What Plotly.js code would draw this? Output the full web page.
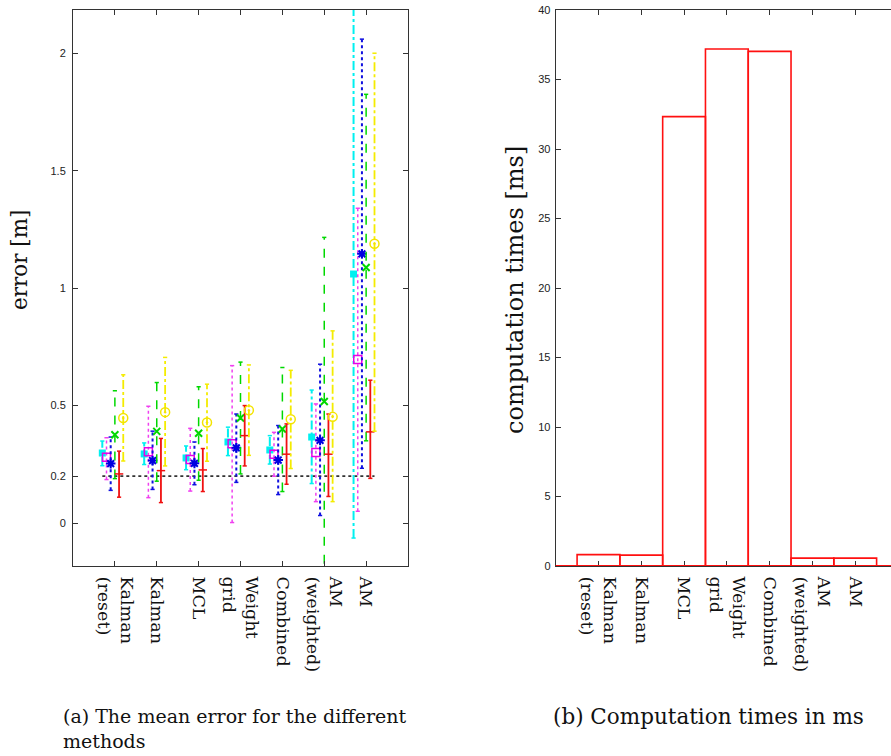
<!DOCTYPE html>
<html>
<head>
<meta charset="utf-8">
<script src="https://cdn.plot.ly/plotly-3.0.1.min.js"></script>
<style>
html, body { margin: 0; padding: 0; overflow: hidden; background: #fff; }
#chart { width: 900px; height: 756px; }
</style>
</head>
<body>
<div id="chart"></div>
<script>
// ---------- data ----------
var methods = ["Kalman<br>(reset)", "Kalman", "MCL", "Weight<br>grid", "Combined", "AM<br>(weighted)", "AM"];
var methodPos = [1, 2, 3, 4, 5, 6, 7];

// mean error [m] and lower / upper error bar ends, per series (one value per method)
var cyanMean  = [0.298, 0.294, 0.277, 0.345, 0.311, 0.366, 1.060];
var cyanLow   = [0.244, 0.249, 0.227, 0.287, 0.251, 0.168, -0.064];
var cyanHigh  = [0.349, 0.341, 0.328, 0.408, 0.372, 0.566, 2.250];

var magentaMean = [0.280, 0.303, 0.270, 0.337, 0.293, 0.300, 0.696];
var magentaLow  = [0.185, 0.108, 0.136, 0.002, 0.199, 0.091, 0.050];
var magentaHigh = [0.363, 0.497, 0.403, 0.670, 0.386, 0.507, 1.340];

var blueMean = [0.253, 0.266, 0.254, 0.320, 0.268, 0.352, 1.146];
var blueLow  = [0.139, 0.143, 0.163, 0.173, 0.121, 0.032, 0.233];
var blueHigh = [0.366, 0.391, 0.345, 0.464, 0.415, 0.676, 2.060];

var greenMean = [0.376, 0.390, 0.382, 0.447, 0.400, 0.517, 1.088];
var greenLow  = [0.189, 0.178, 0.182, 0.209, 0.134, -0.250, 0.350];
var greenHigh = [0.563, 0.598, 0.580, 0.685, 0.662, 1.216, 1.825];

var redMean = [0.209, 0.223, 0.226, 0.372, 0.293, 0.293, 0.388];
var redLow  = [0.110, 0.087, 0.134, 0.243, 0.165, 0.113, 0.190];
var redHigh = [0.306, 0.360, 0.317, 0.500, 0.422, 0.464, 0.608];

var yellowMean = [0.447, 0.472, 0.428, 0.480, 0.442, 0.452, 1.189];
var yellowLow  = [0.264, 0.243, 0.263, 0.288, 0.232, 0.091, 0.391];
var yellowHigh = [0.631, 0.705, 0.591, 0.673, 0.650, 0.818, 2.000];

var referenceError = 0.2;

// computation times [ms]
var compTimes = [0.82, 0.78, 32.33, 37.19, 37.02, 0.57, 0.57];

var errorTicks = [0, 0.2, 0.5, 1, 1.5, 2];
var timeTicks = [0, 5, 10, 15, 20, 25, 30, 35, 40];

// ---------- styles ----------
var seriesDefs = [
  {mean: cyanMean, low: cyanLow, high: cyanHigh, off: -0.3, color: "#00f0f0", dash: "dashdot", width: 2,
   marker: {symbol: "square", size: 7, color: "#00f0f0", line: {width: 0}}},
  {mean: magentaMean, low: magentaLow, high: magentaHigh, off: -0.2, color: "#f040f0", dash: "dot", width: 1.5,
   marker: {symbol: "square-open", size: 8, color: "#e800e8", line: {width: 1.5}}},
  {mean: blueMean, low: blueLow, high: blueHigh, off: -0.1, color: "#1010e0", dash: "dot", width: 2,
   marker: {symbol: "asterisk-open", size: 8, color: "#0000e0", line: {width: 2, color: "#0000e0"}}},
  {mean: greenMean, low: greenLow, high: greenHigh, off: 0.0, color: "#00d800", dash: "dash", width: 1.5,
   marker: {symbol: "x-thin-open", size: 7, color: "#00d800", line: {width: 2, color: "#00d800"}}},
  {mean: redMean, low: redLow, high: redHigh, off: 0.1, color: "#f01010", dash: "solid", width: 1.8,
   marker: {symbol: "line-ew-open", size: 6, color: "#f01010", line: {width: 1.5, color: "#f01010"}}},
  {mean: yellowMean, low: yellowLow, high: yellowHigh, off: 0.2, color: "#f4ec00", dash: "dashdot", width: 1.8,
   marker: {symbol: "circle-open-dot", size: 9, color: "#f4e400", line: {width: 1.5}}}
];
var capHalf = 0.05;

var traces = [];
// reference line spans the x extent of the data points
var offs = seriesDefs.map(function (s) { return s.off; });
var refX0 = methodPos[0] + Math.min.apply(null, offs);
var refX1 = methodPos[methodPos.length - 1] + Math.max.apply(null, offs);
traces.push({
  x: [refX0, refX1], y: [referenceError, referenceError], mode: "lines",
  line: {color: "#333", dash: "dot", width: 1.8}, xaxis: "x", yaxis: "y", hoverinfo: "skip"
});

seriesDefs.forEach(function (s) {
  var vx = [], vy = [], cx = [], cy = [], mx = [];
  methodPos.forEach(function (p, i) {
    var x = p + s.off;
    mx.push(x);
    vx.push(x, x, null); vy.push(s.low[i], s.high[i], null);
    cx.push(x - capHalf, x + capHalf, null, x - capHalf, x + capHalf, null);
    cy.push(s.low[i], s.low[i], null, s.high[i], s.high[i], null);
  });
  traces.push({x: vx, y: vy, mode: "lines", line: {color: s.color, dash: s.dash, width: s.width},
    xaxis: "x", yaxis: "y", hoverinfo: "skip"});
  traces.push({x: cx, y: cy, mode: "lines", line: {color: s.color, width: 1.5},
    xaxis: "x", yaxis: "y", hoverinfo: "skip"});
  traces.push({x: mx, y: s.mean, mode: "markers", marker: s.marker, xaxis: "x", yaxis: "y"});
});

traces.push({
  type: "bar", x: methodPos, y: compTimes, width: 1,
  marker: {color: "rgba(0,0,0,0)", line: {color: "#ff1010", width: 1.6}},
  xaxis: "x2", yaxis: "y2"
});

var W = 900, H = 756;
var plotTop = 10, plotBottom = 566;
var yDom = [(H - plotBottom) / H, (H - plotTop) / H];

var axisCommon = {
  showline: true, linecolor: "#333", linewidth: 1, mirror: "ticks",
  ticks: "inside", ticklen: 5, tickwidth: 1, tickcolor: "#333",
  showgrid: false, zeroline: false, fixedrange: true
};
function merge(a, b) { var o = {}; for (var k in a) o[k] = a[k]; for (var k2 in b) o[k2] = b[k2]; return o; }

var xTickFont = {family: "DejaVu Serif", size: 17.5, color: "#111"};
var yTickFont = {family: "Liberation Sans, Arial, sans-serif", size: 11, color: "#222"};

var layout = {
  width: W, height: H,
  margin: {l: 0, r: 0, t: 0, b: 0, autoexpand: false},
  paper_bgcolor: "#fff", plot_bgcolor: "#fff",
  showlegend: false,
  font: {family: "DejaVu Serif", color: "#111"},
  xaxis: merge(axisCommon, {domain: [73 / W, 408 / W], range: [0, 8], tickvals: methodPos, ticktext: methods,
    tickangle: 90, tickfont: xTickFont, anchor: "y", ticklabelstandoff: 6}),
  yaxis: merge(axisCommon, {domain: yDom, range: [-0.183, 2.184], tickvals: errorTicks,
    ticktext: errorTicks.map(String), tickfont: yTickFont, anchor: "x", ticklabelstandoff: 4}),
  xaxis2: merge(axisCommon, {domain: [555.7 / W, 898 / W], range: [0, 8], tickvals: methodPos, ticktext: methods,
    tickangle: 90, tickfont: xTickFont, anchor: "y2", ticklabelstandoff: 6}),
  yaxis2: merge(axisCommon, {domain: yDom, range: [0, 40], tickvals: timeTicks, tickfont: yTickFont,
    anchor: "x2", ticklabelstandoff: 2}),
  shapes: [{type: "line", xref: "x2 domain", yref: "y2", x0: 0, x1: 1, y0: 0, y1: 0,
    line: {color: "#ff1010", width: 2}, layer: "above"}],
  annotations: [
    {text: "error [m]", textangle: -90, xref: "paper", yref: "paper", x: 19 / W, y: 1 - 260 / H,
     xanchor: "center", yanchor: "middle", showarrow: false, font: {family: "DejaVu Serif", size: 21.5, color: "#111"}},
    {text: "computation times [ms]", textangle: -90, xref: "paper", yref: "paper", x: 515 / W, y: 1 - 290 / H,
     xanchor: "center", yanchor: "middle", showarrow: false, font: {family: "DejaVu Serif", size: 24, color: "#111"}},
    {text: "(a) The mean error for the different<br>methods", xref: "paper", yref: "paper", x: 61 / W, y: 1 - 703 / H,
     xanchor: "left", yanchor: "top", align: "left", showarrow: false, font: {family: "DejaVu Serif", size: 19, color: "#111"}},
    {text: "(b) Computation times in ms", xref: "paper", yref: "paper", x: 551 / W, y: 1 - 702 / H,
     xanchor: "left", yanchor: "top", align: "left", showarrow: false, font: {family: "DejaVu Serif", size: 21.5, color: "#111"}}
  ]
};

Plotly.newPlot("chart", traces, layout, {displayModeBar: false, staticPlot: true});
</script>
</body>
</html>
